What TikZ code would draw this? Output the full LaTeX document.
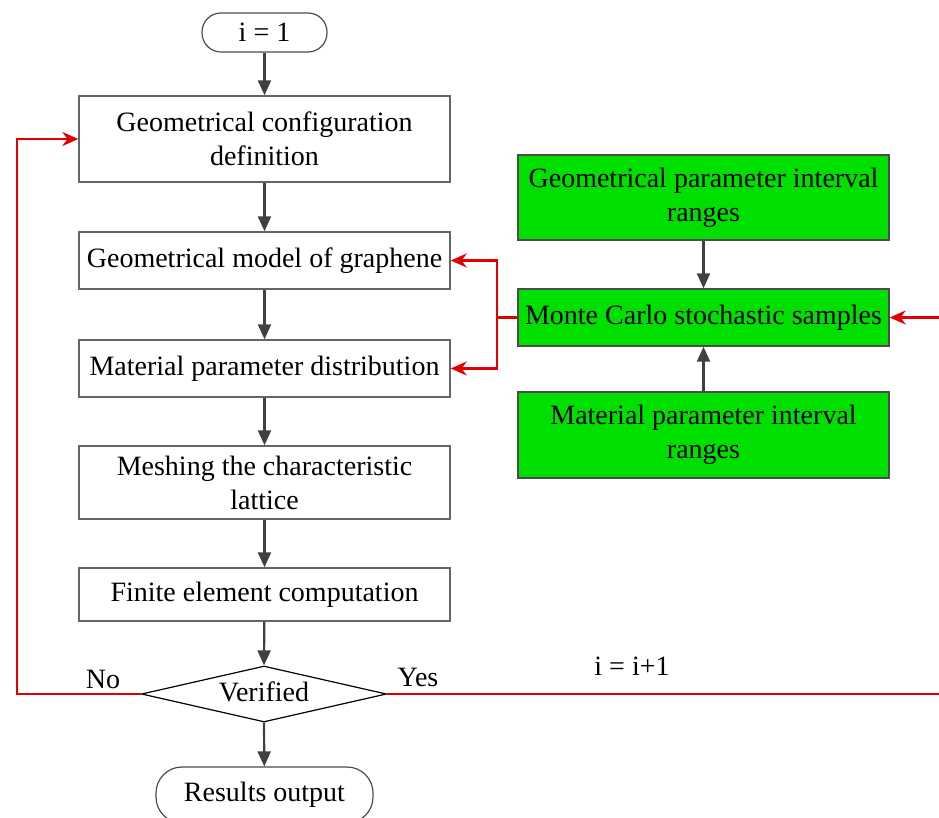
\documentclass[tikz,border=0pt]{standalone}
\usepackage{fontspec}
\setmainfont{Liberation Serif}
\usetikzlibrary{arrows.meta,shapes.geometric}
\definecolor{flowred}{RGB}{228,0,0}
\definecolor{flowgreen}{RGB}{0,224,0}
\definecolor{flowgray}{RGB}{64,64,64}
\begin{document}
\begin{tikzpicture}[x=1pt,y=-1pt,
  every node/.style={font=\fontsize{28}{34}\selectfont},
  procbox/.style={draw=black!60,line width=1.4pt,minimum width=371pt,align=center,inner sep=0pt},
  greenbox/.style={draw=black!70,line width=1.4pt,fill=flowgreen,minimum width=371pt,align=center,inner sep=0pt},
  term/.style={draw=black!70,line width=1.2pt,rounded corners=19pt,align=center,inner sep=0pt},
  decision/.style={draw=black,line width=1.2pt,diamond,aspect=4.4,inner sep=0pt,minimum width=245pt,minimum height=56pt},
  grayarrow/.style={draw=flowgray,line width=2.2pt,-{Triangle[length=15pt,width=13pt]}},
  redline/.style={draw=flowred,line width=2.2pt},
  redarrow/.style={redline,-{Stealth[length=16pt,width=14pt]}}]
\useasboundingbox (0,0) rectangle (939,818);

\node[term,minimum width=125pt,minimum height=39pt] (start) at (264.5,32.5) {i = 1};
\node[procbox,minimum height=86pt] (b1) at (264.5,139) {Geometrical configuration\\definition};
\node[procbox,minimum height=57pt] (b2) at (264.5,260.5) {Geometrical model of graphene};
\node[procbox,minimum height=57pt] (b3) at (264.5,368.5) {Material parameter distribution};
\node[procbox,minimum height=73pt] (b4) at (264.5,482.5) {Meshing the characteristic\\lattice};
\node[procbox,minimum height=53pt] (b5) at (264.5,594.5) {Finite element computation};
\node[decision] (ver) at (264,694) {};
\node (vertext) at (264,692) {Verified};
\node[term,rounded corners=26pt,minimum width=217pt,minimum height=56pt] (out) at (264.5,795) {Results output};

\node[greenbox,minimum height=85pt] (g1) at (703.5,197.5) {Geometrical parameter interval\\ranges};
\node[greenbox,minimum height=57pt] (mc) at (703.5,317.5) {Monte Carlo stochastic samples};
\node[greenbox,minimum height=86pt] (g3) at (703.5,435) {Material parameter interval\\ranges};

\draw[grayarrow] (start) -- (b1);
\draw[grayarrow] (b1) -- (b2);
\draw[grayarrow] (b2) -- (b3);
\draw[grayarrow] (b3) -- (b4);
\draw[grayarrow] (b4) -- (b5);
\draw[grayarrow] (b5) -- (ver.north);
\draw[grayarrow] (ver.south) -- (out);
\draw[grayarrow] (g1) -- (mc);
\draw[grayarrow] (g3) -- (mc);

\coordinate (rj) at (497,317.5);
\draw[redline] (mc.west) -- (rj);
\draw[redarrow] (rj) |- (b2.east);
\draw[redarrow] (rj) |- (b3.east);
\coordinate (rin) at (939,317.5);
\draw[redarrow] (rin) -- (mc.east);
\coordinate (yesend) at (939,694);
\draw[redline] (ver.east) -- (yesend);
\coordinate (nocorner) at (17,694);
\draw[redarrow] (ver.west) -- (nocorner) |- (b1.west);

\node (no) at (103,679) {No};
\node (yes) at (418,677) {Yes};
\node (inc) at (632,666) {i = i+1};
\end{tikzpicture}
\end{document}
